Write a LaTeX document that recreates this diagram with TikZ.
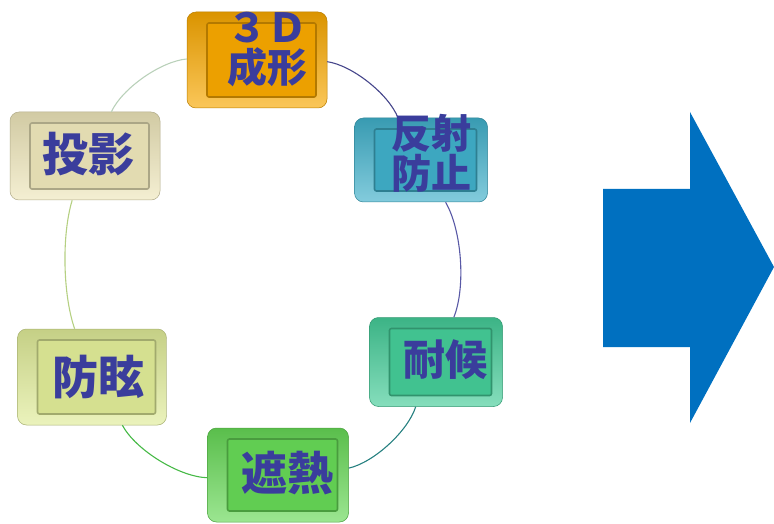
\documentclass[tikz,border=0pt]{standalone}
\usepackage{fontspec}
\newfontfamily\jpfont{Noto Sans CJK JP}
\usepackage{tikz}
\usetikzlibrary{calc}
\usepackage{xcolor}
\definecolor{CapOrange}{HTML}{F8A800}
\definecolor{CapTeal}{HTML}{40B0CA}
\definecolor{CapMint}{HTML}{44CC98}
\definecolor{CapGreen}{HTML}{66D856}
\definecolor{CapLime}{HTML}{E0EC98}
\definecolor{CapBeige}{HTML}{EEE6BA}
\definecolor{LabelBlue}{HTML}{3A3D9C}
\definecolor{ArrowBlue}{HTML}{0070C0}

\tikzset{
  keycap/.style={rounded corners=9pt, draw=#1!75!black, line width=0.5pt,
    top color=#1!88!black, bottom color=#1!65!white,
    path picture={
      \fill[#1!95!black, draw=#1!72!black, line width=1.6pt, rounded corners=2pt]
        ($(path picture bounding box.south west)+(20pt,11pt)$) rectangle
        ($(path picture bounding box.north east)+(-11pt,-11pt)$);
    }},
  keytext/.style={font=\jpfont\bfseries\fontsize{46}{46}\selectfont,
    text=LabelBlue, align=center, inner sep=0pt},
  smalltext/.style={keytext, font=\jpfont\bfseries\fontsize{40}{40}\selectfont},
  ring/.style={line width=1.1pt, bend left=30, looseness=0.72}
}

\begin{document}
\begin{tikzpicture}[x=1pt,y=1pt]
    \useasboundingbox (0,0) rectangle (774,523);

    \node[keycap=CapOrange, minimum width=140pt, minimum height=96pt] (forming) at (257,463) {};
    \node[keycap=CapTeal,   minimum width=133pt, minimum height=84pt] (antireflect) at (421,363) {};
    \node[keycap=CapMint,   minimum width=133pt, minimum height=89pt] (weather) at (436,161) {};
    \node[keycap=CapGreen,  minimum width=141pt, minimum height=94pt] (heatshield) at (278,48) {};
    \node[keycap=CapLime,   minimum width=149pt, minimum height=96pt] (antiglare) at (92,146) {};
    \node[keycap=CapBeige,  minimum width=150pt, minimum height=88pt] (projection) at (85,367) {};

    \draw[ring, color=black!40!blue!45!gray] (forming) to (antireflect);
    \draw[ring, bend left=26, color=blue!30!gray] (antireflect) to (weather);
    \draw[ring, color=teal!70!gray] (weather) to (heatshield);
    \draw[ring, color=green!45!gray] (heatshield) to (antiglare);
    \draw[ring, bend left=18, color=olive!55!green!45!white] (antiglare) to (projection);
    \draw[ring, color=green!20!gray!45!white] (projection) to (forming);

    \node[smalltext] (forming-t) at ([shift={(10,10)}]forming.center) {３Ｄ\\成形};
    \node[smalltext] (antireflect-t) at ([shift={(10,7)}]antireflect.center) {反射\\防止};
    \node[keytext, font=\jpfont\bfseries\fontsize{42}{42}\selectfont] (weather-t) at ([shift={(9,2)}]weather.center) {耐候};
    \node[keytext] (heatshield-t) at ([shift={(9,2)}]heatshield.center) {遮熱};
    \node[keytext] (antiglare-t) at ([shift={(6,0)}]antiglare.center) {防眩};
    \node[keytext] (projection-t) at ([shift={(3,2)}]projection.center) {投影};

    \fill[ArrowBlue] (603,334) -- (690,334) -- (690,411) -- (774,256)
        -- (690,100) -- (690,176) -- (603,176) -- cycle;
\end{tikzpicture}
\end{document}
